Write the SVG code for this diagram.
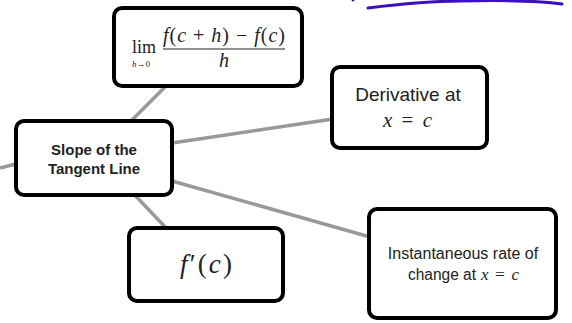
<svg xmlns="http://www.w3.org/2000/svg" width="572" height="323" viewBox="0 0 572 323">
<style>
.box{fill:#fff;stroke:#000;stroke-width:4}
.conn{stroke:#999;stroke-width:3.5;fill:none}
.sans{font-family:"Liberation Sans",Arial,sans-serif;fill:#222}
.math{font-family:"Liberation Serif","Times New Roman",serif;fill:#222}
.it{font-style:italic}
</style>
<rect width="572" height="323" fill="#fff"/>
<g id="ink">
<path d="M368,8 C400,4 430,1 460,1 C500,0 540,1 562,4" fill="none" stroke="#3a10c0" stroke-width="3" stroke-linecap="round"/>
<circle cx="353" cy="0" r="1.5" fill="#3a10c0"/>
</g>
<g id="connectors">
<line class="conn" x1="166" y1="86" x2="126" y2="126"/>
<line class="conn" x1="172" y1="143" x2="333" y2="119"/>
<line class="conn" x1="0" y1="168" x2="16" y2="164"/>
<line class="conn" x1="130" y1="190" x2="168" y2="230"/>
<line class="conn" x1="172" y1="181" x2="370" y2="237"/>
</g>
<g id="limit">
<rect class="box" x="114" y="8" width="188" height="78" rx="8"/>
<text class="math" x="132" y="53" font-size="18">lim</text>
<text class="math" x="132" y="67" font-size="9"><tspan class="it">h</tspan>→0</text>
<text class="math" x="163" y="42" font-size="20" textLength="122" lengthAdjust="spacing"><tspan class="it">f</tspan>(<tspan class="it">c</tspan> + <tspan class="it">h</tspan>) − <tspan class="it">f</tspan>(<tspan class="it">c</tspan>)</text>
<line x1="163" y1="49" x2="285" y2="49" stroke="#222" stroke-width="1.2"/>
<text class="math it" x="224" y="67" font-size="20" text-anchor="middle">h</text>
</g>
<g id="derivative">
<rect class="box" x="332" y="67" width="155" height="81" rx="8"/>
<text class="sans" x="408" y="101" font-size="19" text-anchor="middle">Derivative at</text>
<text class="math" x="383" y="127" font-size="21" textLength="49" lengthAdjust="spacing"><tspan class="it">x</tspan> = <tspan class="it">c</tspan></text>
</g>
<g id="slope">
<rect class="box" x="16" y="121" width="156" height="74" rx="8"/>
<text class="sans" x="94" y="155" font-size="15" font-weight="bold" text-anchor="middle">Slope of the</text>
<text class="sans" x="94" y="174" font-size="15" font-weight="bold" text-anchor="middle">Tangent Line</text>
</g>
<g id="fprime">
<rect class="box" x="129" y="228" width="154" height="73" rx="8"/>
<text class="math" x="180" y="273" font-size="27" textLength="52" lengthAdjust="spacing"><tspan class="it">f</tspan>′(<tspan class="it">c</tspan>)</text>
</g>
<g id="instantaneous">
<rect class="box" x="369" y="209" width="187" height="109" rx="8"/>
<text class="sans" x="463" y="259" font-size="16" text-anchor="middle">Instantaneous rate of</text>
<text class="sans" x="408" y="280" font-size="16" textLength="68" lengthAdjust="spacingAndGlyphs">change at</text>
<text class="math" x="481" y="280" font-size="17" textLength="38" lengthAdjust="spacing"><tspan class="it">x</tspan> = <tspan class="it">c</tspan></text>
</g>
</svg>
